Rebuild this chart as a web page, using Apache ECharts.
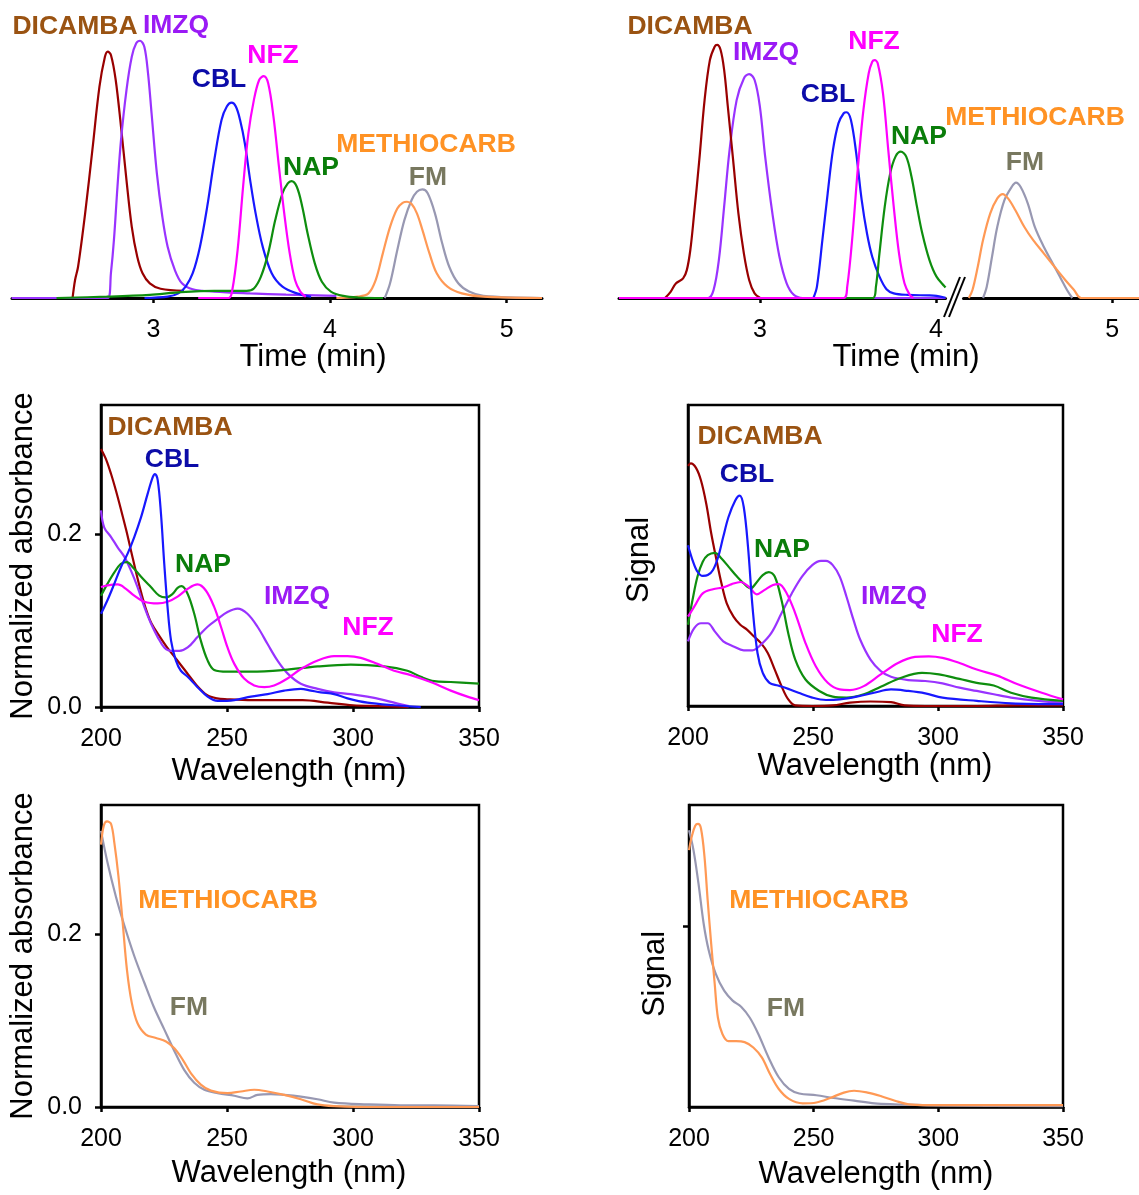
<!DOCTYPE html>
<html>
<head>
<meta charset="utf-8">
<script src="https://cdn.jsdelivr.net/npm/echarts@6/dist/echarts.min.js"></script>
<style>
html,body{margin:0;padding:0;background:#fff;}
#chart{width:1139px;height:1195px;}
</style>
</head>
<body>
<div id="chart"></div>
<script>
// ---------- DATA ----------
const compounds = ['DICAMBA','IMZQ','CBL','NFZ','NAP','METHIOCARB','FM'];
const timeTicksLeft = [3,4,5];
const timeTicksRightA = [3,4];
const timeTicksRightB = [5];
const wavelengthTicks = [200,250,300,350];
const absorbanceTicks = [0,0.2];
const signalTicks = [0.2];

// Top-left chromatogram [time (min), relative signal]
const tlDicamba = [[2.543,0.001],[2.557,0.07],[2.574,0.121],[2.614,0.328],[2.655,0.574],[2.695,0.819],[2.726,0.935],[2.742,0.955],[2.760,0.942],[2.787,0.845],[2.817,0.664],[2.848,0.457],[2.878,0.276],[2.909,0.16],[2.939,0.096],[2.980,0.057],[3.041,0.036],[3.173,0.028]];
const tlImzq = [[2.198,0],[2.742,0],[2.760,0.096],[2.777,0.225],[2.797,0.431],[2.817,0.612],[2.848,0.806],[2.878,0.935],[2.903,0.987],[2.925,0.997],[2.949,0.974],[2.970,0.871],[2.990,0.716],[3.020,0.483],[3.051,0.315],[3.081,0.199],[3.122,0.108],[3.162,0.057],[3.223,0.034],[3.345,0.025],[3.548,0.018],[3.751,0.013],[4.036,0.008]];
const tlCbl = [[2.95,0],[3.081,0.005],[3.142,0.018],[3.183,0.044],[3.223,0.096],[3.264,0.199],[3.305,0.354],[3.345,0.535],[3.386,0.69],[3.416,0.742],[3.443,0.757],[3.467,0.742],[3.491,0.69],[3.518,0.599],[3.548,0.457],[3.579,0.328],[3.619,0.199],[3.670,0.096],[3.731,0.044],[3.812,0.018],[3.893,0.005]];
const tlNfz = [[3.254,0],[3.426,0],[3.447,0.031],[3.477,0.186],[3.508,0.431],[3.538,0.638],[3.569,0.767],[3.599,0.845],[3.625,0.86],[3.650,0.832],[3.680,0.703],[3.711,0.509],[3.741,0.328],[3.772,0.173],[3.802,0.07],[3.832,0.025],[3.863,0.004]];
const tlNap = [[2.452,0],[2.736,0.005],[2.980,0.012],[3.142,0.022],[3.345,0.028],[3.528,0.028],[3.569,0.037],[3.609,0.083],[3.650,0.173],[3.690,0.302],[3.731,0.406],[3.761,0.444],[3.782,0.453],[3.812,0.431],[3.843,0.354],[3.873,0.251],[3.914,0.134],[3.954,0.063],[4.005,0.025],[4.076,0.008],[4.157,0.002],[4.3,0]];
const tlMeth = [[4.036,0],[4.157,0.005],[4.218,0.018],[4.259,0.07],[4.299,0.173],[4.340,0.276],[4.381,0.347],[4.411,0.369],[4.436,0.373],[4.462,0.364],[4.492,0.328],[4.523,0.264],[4.563,0.173],[4.604,0.096],[4.665,0.044],[4.746,0.018],[4.868,0.005],[5.2,0]];
const tlFm = [[4.310,0],[4.340,0.057],[4.381,0.186],[4.421,0.302],[4.462,0.38],[4.492,0.412],[4.523,0.421],[4.553,0.406],[4.594,0.328],[4.635,0.212],[4.675,0.121],[4.726,0.057],[4.787,0.025],[4.868,0.008],[5.2,0]];

// Top-right chromatogram
const trDicamba = [[2.463,0.001],[2.493,0.024],[2.524,0.057],[2.564,0.076],[2.585,0.108],[2.605,0.186],[2.625,0.315],[2.656,0.535],[2.686,0.767],[2.716,0.922],[2.743,0.974],[2.757,0.981],[2.777,0.961],[2.797,0.884],[2.818,0.742],[2.848,0.535],[2.878,0.328],[2.909,0.173],[2.939,0.07],[2.97,0.018],[3.0,0.001]];
const trImzq = [[2.2,0],[2.706,0],[2.737,0.031],[2.767,0.147],[2.797,0.354],[2.828,0.574],[2.868,0.767],[2.909,0.851],[2.939,0.868],[2.97,0.845],[3.0,0.742],[3.03,0.548],[3.071,0.328],[3.111,0.16],[3.152,0.057],[3.193,0.012],[3.243,0],[4.054,0]];
const trCbl = [[3.304,0],[3.324,0.044],[3.355,0.225],[3.385,0.406],[3.415,0.574],[3.446,0.677],[3.476,0.716],[3.492,0.72],[3.517,0.69],[3.547,0.561],[3.578,0.38],[3.608,0.251],[3.638,0.16],[3.679,0.083],[3.719,0.034],[3.76,0.018],[3.841,0.012],[3.962,0.01],[4.003,0.008],[4.054,0.001]];
const trNfz = [[2.2,0],[3.476,0],[3.496,0.044],[3.527,0.251],[3.557,0.509],[3.588,0.729],[3.618,0.871],[3.638,0.916],[3.652,0.922],[3.669,0.91],[3.699,0.793],[3.729,0.574],[3.76,0.354],[3.79,0.173],[3.821,0.057],[3.851,0.012],[3.871,0]];
const trNap = [[3.476,0],[3.642,0],[3.659,0.044],[3.679,0.173],[3.709,0.354],[3.74,0.483],[3.77,0.548],[3.8,0.567],[3.831,0.548],[3.861,0.47],[3.892,0.354],[3.922,0.251],[3.963,0.147],[4.003,0.083],[4.054,0.041]];
const trMeth = [[4.185,0],[4.206,0.031],[4.236,0.121],[4.266,0.225],[4.307,0.328],[4.347,0.386],[4.378,0.403],[4.408,0.386],[4.449,0.341],[4.5,0.276],[4.55,0.225],[4.611,0.173],[4.672,0.121],[4.733,0.07],[4.783,0.031],[4.824,0],[5.152,0]];
const trFm = [[4.266,0],[4.287,0.044],[4.317,0.16],[4.347,0.276],[4.388,0.38],[4.429,0.431],[4.453,0.447],[4.479,0.431],[4.52,0.367],[4.56,0.276],[4.611,0.199],[4.662,0.134],[4.702,0.083],[4.743,0.031],[4.773,0]];

// Middle-left spectra [nm, normalized absorbance]
const mlDicamba = [[200,0.299],[202,0.287],[204,0.27],[206,0.25],[208,0.228],[210,0.205],[212,0.18],[214,0.155],[216,0.132],[218,0.112],[220,0.097],[223,0.083],[226,0.07],[230,0.055],[234,0.04],[238,0.025],[242,0.014],[246,0.01],[250,0.009],[260,0.008],[270,0.008],[280,0.008],[290,0.005],[300,0.002],[310,0.001],[322,0]];
const mlCbl = [[200,0.108],[202.6,0.124],[205.3,0.143],[207.9,0.162],[210.6,0.178],[213.2,0.197],[215.9,0.22],[218.5,0.247],[220.5,0.266],[221.4,0.27],[222.5,0.263],[223.8,0.224],[225.1,0.166],[226.4,0.116],[227.8,0.077],[229.7,0.054],[231.7,0.042],[234.4,0.035],[238.3,0.023],[242.3,0.012],[246.3,0.007],[252.9,0.008],[259.5,0.012],[266.1,0.015],[272.7,0.019],[279.3,0.021],[283.3,0.019],[287.2,0.017],[292.5,0.015],[297.8,0.01],[305.7,0.005],[316.3,0.002],[326.9,0]];
const mlNap = [[200,0.129],[202.6,0.143],[205.3,0.156],[207.9,0.166],[210.3,0.168],[212.6,0.162],[215.9,0.151],[219.8,0.139],[223.1,0.129],[225.8,0.127],[228.4,0.131],[230.4,0.138],[232,0.14],[234.4,0.131],[237,0.108],[239.6,0.077],[242.3,0.054],[244.9,0.043],[250.2,0.041],[259.5,0.041],[272.7,0.043],[286,0.047],[299.1,0.049],[312.3,0.047],[321.6,0.042],[326.9,0.035],[332.2,0.03],[338.8,0.029],[350,0.027]];
const mlNfz = [[200,0.139],[202.6,0.141],[206.6,0.142],[209.9,0.137],[213.2,0.129],[217.2,0.122],[222.5,0.12],[226.4,0.122],[230.4,0.128],[234.4,0.137],[238.3,0.142],[241.6,0.135],[244.9,0.116],[247.6,0.093],[250.2,0.069],[252.9,0.05],[256.8,0.033],[260.8,0.025],[264.8,0.023],[268.7,0.025],[274,0.033],[279.3,0.044],[286,0.054],[292.5,0.059],[297.8,0.059],[303.1,0.057],[309.7,0.05],[316.3,0.042],[322.9,0.037],[330.8,0.029],[338.8,0.019],[345.4,0.012],[350,0.008]];
const mlImzq = [[200,0.228],[201.3,0.208],[204,0.197],[206.6,0.185],[209.3,0.174],[211.9,0.158],[214.5,0.139],[217.2,0.116],[219.8,0.097],[222.5,0.081],[225.1,0.069],[227.8,0.065],[231.1,0.065],[234.4,0.069],[238.3,0.081],[242.3,0.093],[246.3,0.102],[250.2,0.11],[254.2,0.114],[258.1,0.108],[262.1,0.093],[266.1,0.073],[270,0.054],[274,0.039],[279.3,0.027],[286,0.021],[292.5,0.017],[299.1,0.015],[305.7,0.012],[312.3,0.008],[319,0.003],[322.2,0.001]];

// Middle-right spectra [nm, relative signal]
const mrDicamba = [[200,0.798],[201.1,0.806],[203.2,0.791],[205.2,0.749],[207.3,0.672],[209.3,0.573],[211.4,0.485],[213.4,0.407],[215.5,0.341],[218.2,0.297],[220.9,0.27],[223.7,0.253],[226.4,0.231],[229.2,0.209],[231.9,0.176],[234.7,0.121],[237.4,0.066],[240.1,0.022],[242.9,0.002],[249.7,0],[257.9,0.002],[264.8,0.011],[273,0.015],[281.2,0.013],[286.7,0.002],[294.9,0],[315.5,0],[331.9,0.002],[350,0.002]];
const mrCbl = [[200,0.534],[201.8,0.485],[203.8,0.446],[205.9,0.432],[207.9,0.435],[210,0.452],[212.1,0.496],[214.1,0.562],[216.2,0.628],[218.9,0.683],[220.7,0.699],[222.3,0.661],[224,0.529],[225.8,0.33],[227.8,0.176],[229.9,0.11],[232.6,0.077],[236,0.068],[240.1,0.057],[244.2,0.044],[249.7,0.028],[255.2,0.02],[260.7,0.022],[267.5,0.031],[274.4,0.044],[281.2,0.055],[288.1,0.05],[294.9,0.042],[301.8,0.028],[315.5,0.017],[329.2,0.009],[350,0.006]];
const mrNap = [[200,0.27],[201.8,0.352],[203.8,0.43],[205.9,0.479],[207.9,0.501],[210.7,0.509],[213.4,0.49],[216.2,0.463],[219.6,0.43],[222.3,0.407],[225.1,0.391],[227.1,0.407],[229.9,0.435],[232.3,0.445],[234.7,0.43],[237.4,0.352],[240.1,0.242],[242.9,0.154],[247,0.088],[252.5,0.05],[257.9,0.031],[263.4,0.028],[270.3,0.039],[277.1,0.064],[285.3,0.094],[293.6,0.11],[300.4,0.105],[308.6,0.09],[315.5,0.077],[322.3,0.068],[329.2,0.044],[337.4,0.028],[350,0.017]];
const mrNfz = [[200,0.297],[202.5,0.33],[205.9,0.374],[210,0.388],[214.1,0.394],[217.5,0.405],[221,0.412],[224.4,0.396],[227.5,0.371],[230.5,0.385],[234,0.402],[236.3,0.405],[239.5,0.374],[242.9,0.308],[247,0.209],[251.1,0.132],[255.9,0.077],[260.7,0.055],[264.8,0.053],[270.3,0.066],[277.1,0.105],[284,0.143],[290.8,0.163],[296.3,0.165],[301.8,0.16],[308.6,0.143],[315.5,0.121],[323.7,0.101],[331.9,0.072],[341.5,0.044],[350,0.022]];
const mrImzq = [[200,0.215],[202.5,0.259],[205.2,0.275],[207.9,0.275],[210.7,0.248],[214.1,0.215],[218.2,0.198],[222.3,0.185],[225.8,0.185],[229.2,0.204],[233.3,0.242],[237.4,0.308],[241.5,0.374],[245.6,0.43],[249.7,0.468],[253.2,0.482],[255.2,0.482],[257.9,0.468],[260.7,0.43],[263.4,0.363],[266.2,0.286],[268.9,0.22],[273,0.154],[277.1,0.116],[281.2,0.097],[288.1,0.086],[294.9,0.083],[301.8,0.075],[308.6,0.061],[315.5,0.05],[322.3,0.039],[329.2,0.028],[340.1,0.017],[350,0.011]];

// Bottom-left spectra
const blMeth = [[200,0.304],[201.1,0.326],[202.4,0.331],[204,0.328],[205.3,0.306],[206.9,0.268],[208.6,0.214],[210.3,0.159],[212.2,0.121],[214.5,0.097],[217.8,0.084],[221.8,0.08],[225.8,0.076],[229.1,0.068],[232.4,0.055],[235.7,0.039],[239.6,0.026],[243.6,0.019],[250.2,0.016],[255.5,0.018],[260.8,0.02],[266.1,0.018],[272.7,0.014],[279.3,0.009],[285.9,0.003],[292.5,0.001],[305.7,0],[350,0]];
const blFm = [[200,0.32],[202.6,0.283],[205.9,0.244],[209.3,0.21],[213.2,0.175],[217.2,0.144],[221.1,0.115],[225.1,0.09],[229.1,0.065],[233,0.043],[237,0.028],[241,0.02],[246.3,0.016],[252.9,0.013],[258.1,0.01],[262.1,0.014],[267.4,0.015],[272.7,0.014],[279.3,0.012],[285.9,0.009],[292.5,0.005],[305.7,0.003],[318.9,0.002],[332.2,0.002],[350,0.001]];

// Bottom-right spectra
const brMeth = [[200,0.285],[201.1,0.3],[202.5,0.312],[203.6,0.314],[204.8,0.309],[206.2,0.278],[207.5,0.229],[208.9,0.181],[210.3,0.137],[211.6,0.099],[213.4,0.081],[215.8,0.073],[218.9,0.073],[222.3,0.072],[225.8,0.066],[229.2,0.055],[232.6,0.036],[236,0.02],[240.1,0.009],[245.6,0.004],[251.1,0.005],[256.6,0.01],[262.1,0.016],[266.2,0.018],[271.6,0.016],[277.1,0.012],[282.6,0.007],[288.1,0.003],[301.8,0.002],[315.5,0.002],[329.2,0.002],[350,0.002]];
const brFm = [[200,0.307],[201.8,0.285],[203.8,0.248],[205.9,0.203],[207.9,0.174],[210.7,0.148],[214.1,0.129],[217.5,0.118],[221,0.111],[224.4,0.099],[227.8,0.081],[231.9,0.055],[236,0.033],[240.1,0.02],[244.2,0.015],[251.1,0.013],[257.9,0.01],[266.2,0.007],[274.4,0.004],[282.6,0.003],[301.8,0.0015],[350,0.001]];

// ---------- STYLE ----------
const lineColor = {DICAMBA:'#990000', IMZQ:'#9933FF', CBL:'#1818FF', NFZ:'#FF00FF', NAP:'#0E8E0E', METHIOCARB:'#FF9955', FM:'#9898B2'};
const labelColor = {DICAMBA:'#9A5312', IMZQ:'#9A1AF5', CBL:'#0C0CA8', NFZ:'#FF00FF', NAP:'#0A7D0A', METHIOCARB:'#FF9224', FM:'#78785F'};
const FONT = '"Liberation Sans", Arial, Helvetica, sans-serif';

const chart = echarts.init(document.getElementById('chart'), null, {renderer:'canvas'});

const grids = [
  {left:12, top:40, width:530, height:258},
  {left:619, top:40, width:326.5, height:258},
  {left:963.5, top:40, width:175.5, height:258},
  {left:101, top:405, width:378, height:302, show:true, borderColor:'#000', borderWidth:2.5},
  {left:688, top:405, width:375, height:301, show:true, borderColor:'#000', borderWidth:2.5},
  {left:101, top:805, width:378, height:302, show:true, borderColor:'#000', borderWidth:2.5},
  {left:689, top:805, width:374, height:302, show:true, borderColor:'#000', borderWidth:2.5}
];

function timeAxis(gi, min, max, ticks){
  return {type:'value', gridIndex:gi, min:min, max:max,
    axisLine:{show:true, onZero:false, lineStyle:{color:'#000', width:3}},
    axisTick:{show:true, customValues:ticks, length:5, lineStyle:{color:'#000', width:2.5}},
    axisLabel:{show:true, customValues:ticks, margin:20, fontSize:25, color:'#000', fontFamily:FONT},
    splitLine:{show:false}};
}
function waveAxis(gi){
  return {type:'value', gridIndex:gi, min:200, max:350, interval:50,
    axisLine:{show:true, onZero:false, lineStyle:{color:'#000', width:2.5}},
    axisTick:{show:true, customValues:wavelengthTicks, length:5, lineStyle:{color:'#000', width:2.5}},
    axisLabel:{show:true, customValues:wavelengthTicks, margin:20, fontSize:25, color:'#000', fontFamily:FONT},
    splitLine:{show:false}};
}
function absAxis(gi, max){
  return {type:'value', gridIndex:gi, min:0, max:max,
    axisLine:{show:true, lineStyle:{color:'#000', width:2.5}},
    axisTick:{show:true, customValues:absorbanceTicks, length:6, lineStyle:{color:'#000', width:2.5}},
    axisLabel:{show:true, customValues:absorbanceTicks, margin:19, fontSize:25, color:'#000', fontFamily:FONT,
      formatter:(v)=>Number(v).toFixed(1)},
    splitLine:{show:false}};
}
function sigAxis(gi, max, ticks){
  return {type:'value', gridIndex:gi, min:0, max:max,
    axisLine:{show:true, lineStyle:{color:'#000', width:2.5}},
    axisTick:{show:ticks.length>0, customValues:ticks, length:6, lineStyle:{color:'#000', width:2.5}},
    axisLabel:{show:false},
    splitLine:{show:false}};
}
function hiddenY(gi){
  return {type:'value', gridIndex:gi, min:0, max:1, show:false, splitLine:{show:false}};
}

const xAxes = [
  timeAxis(0, 2.2, 5.2, timeTicksLeft),
  timeAxis(1, 2.2, 4.054, timeTicksRightA),
  timeAxis(2, 4.155, 5.152, timeTicksRightB),
  waveAxis(3), waveAxis(4), waveAxis(5), waveAxis(6)
];
const yAxes = [
  hiddenY(0), hiddenY(1), hiddenY(2),
  absAxis(3, 0.35),
  sigAxis(4, 1, []),
  absAxis(5, 0.35),
  sigAxis(6, 0.335, signalTicks)
];

function line(ai, data, name){
  return {type:'line', xAxisIndex:ai, yAxisIndex:ai, data:data, name:name,
    showSymbol:false, symbol:'none', smooth:0.35, clip:true, silent:true,
    lineStyle:{color:lineColor[name], width:2.2}, itemStyle:{color:lineColor[name]}};
}

const series = [
  line(0, tlFm, 'FM'), line(0, tlMeth, 'METHIOCARB'), line(0, tlDicamba, 'DICAMBA'),
  line(0, tlImzq, 'IMZQ'), line(0, tlCbl, 'CBL'), line(0, tlNap, 'NAP'), line(0, tlNfz, 'NFZ'),
  line(1, trImzq, 'IMZQ'), line(1, trDicamba, 'DICAMBA'), line(1, trCbl, 'CBL'),
  line(1, trNap, 'NAP'), line(1, trNfz, 'NFZ'),
  line(2, trFm, 'FM'), line(2, trMeth, 'METHIOCARB'),
  line(3, mlDicamba, 'DICAMBA'), line(3, mlImzq, 'IMZQ'), line(3, mlNap, 'NAP'),
  line(3, mlNfz, 'NFZ'), line(3, mlCbl, 'CBL'),
  line(4, mrDicamba, 'DICAMBA'), line(4, mrImzq, 'IMZQ'), line(4, mrNap, 'NAP'),
  line(4, mrNfz, 'NFZ'), line(4, mrCbl, 'CBL'),
  line(5, blFm, 'FM'), line(5, blMeth, 'METHIOCARB'),
  line(6, brFm, 'FM'), line(6, brMeth, 'METHIOCARB')
];

// ---------- ANNOTATIONS (layout) ----------
const labelLayout = [
  // top-left
  ['DICAMBA',75,27],['IMZQ',176,26],['NFZ',273,56],['CBL',219,80],['NAP',311,168],['METHIOCARB',426,145],['FM',428,178],
  // top-right
  ['DICAMBA',690,27],['IMZQ',766,53],['NFZ',874,42],['CBL',828,95],['NAP',919,137],['METHIOCARB',1035,118],['FM',1025,163],
  // middle-left
  ['DICAMBA',170,428],['CBL',172,460],['NAP',203,565],['IMZQ',297,597],['NFZ',368,628],
  // middle-right
  ['DICAMBA',760,437],['CBL',747,475],['NAP',782,550],['IMZQ',894,597],['NFZ',957,635],
  // bottom
  ['METHIOCARB',228,901],['FM',189,1008],['METHIOCARB',819,901],['FM',786,1009]
];
const titleLayout = [
  ['Time (min)',313,357,0],['Time (min)',906,357,0],
  ['Wavelength (nm)',289,771,0],['Normalized absorbance',23,556,90],
  ['Wavelength (nm)',875,766,0],['Signal',639,560,90],
  ['Wavelength (nm)',289,1173,0],['Normalized absorbance',23,956,90],
  ['Wavelength (nm)',876,1174,0],['Signal',655,974,90]
];

const graphic = [];
labelLayout.forEach(([name,x,y])=>{
  graphic.push({type:'text', x:x, y:y, silent:true, z:100,
    style:{text:name, fill:labelColor[name], font:'bold 26.5px '+FONT,
      textAlign:'center', textVerticalAlign:'middle', align:'center', verticalAlign:'middle'}});
});
titleLayout.forEach(([t,x,y,r])=>{
  graphic.push({type:'text', x:x, y:y, rotation:r*Math.PI/180, silent:true, z:100,
    style:{text:t, fill:'#000', font:'31px '+FONT,
      textAlign:'center', textVerticalAlign:'middle', align:'center', verticalAlign:'middle'}});
});
// axis break marks
graphic.push({type:'line', silent:true, z:100, shape:{x1:944,y1:317,x2:960,y2:277}, style:{stroke:'#000', lineWidth:2}});
graphic.push({type:'line', silent:true, z:100, shape:{x1:949,y1:317,x2:965,y2:277}, style:{stroke:'#000', lineWidth:2}});

chart.setOption({
  animation:false,
  backgroundColor:'#fff',
  grid:grids,
  xAxis:xAxes,
  yAxis:yAxes,
  series:series,
  graphic:graphic
});
</script>
</body>
</html>
